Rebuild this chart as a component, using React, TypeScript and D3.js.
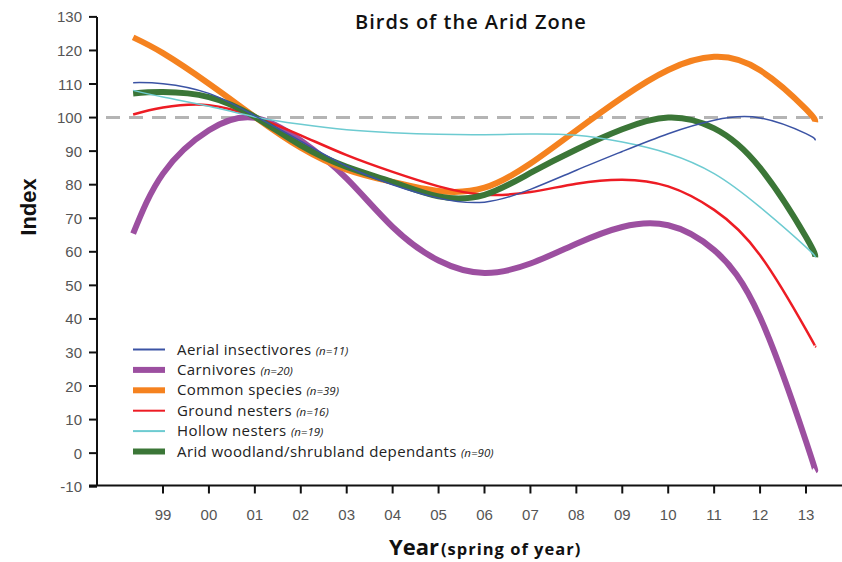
import React, { useEffect, useRef } from "react"
import * as d3 from "d3"

// x positions (years) where values were read; first/last are the curve ends
const years = [1998.35, 1999, 2000, 2001, 2002, 2003, 2004, 2005, 2006, 2007, 2008, 2009, 2010, 2011, 2012, 2013, 2013.2]
const tickYears = [1999, 2000, 2001, 2002, 2003, 2004, 2005, 2006, 2007, 2008, 2009, 2010, 2011, 2012, 2013]
const tickLabels = ["99", "00", "01", "02", "03", "04", "05", "06", "07", "08", "09", "10", "11", "12", "13"]
const yTicks = [-10, 0, 10, 20, 30, 40, 50, 60, 70, 80, 90, 100, 110, 120, 130]

const aerial = [110.4, 110.1, 107.2, 100.5, 93, 85.5, 80, 76, 74.8, 78.6, 84.3, 89.9, 95.2, 99.2, 99.9, 95.2, 93.2]
const carnivores = [65.4, 83.3, 96.2, 99.9, 93.2, 81.8, 67.4, 57.4, 53.7, 56.5, 62.4, 67.4, 67.9, 60.5, 40.5, 3.5, -5.2]
const common = [123.9, 119.2, 110.1, 100.2, 91, 84.5, 80.8, 78.1, 79.1, 86.3, 96.2, 106, 114.2, 118.1, 114.1, 102.5, 98.7]
const ground = [100.9, 103, 103.7, 100.2, 94.7, 88.8, 83.8, 79.5, 77, 77.8, 80.3, 81.5, 79.5, 72.5, 59, 36.8, 31.8]
const hollow = [108.1, 106.1, 103.4, 100.2, 98, 96.4, 95.5, 95, 94.9, 95.1, 94.7, 92.7, 89.3, 83.3, 73.3, 61.4, 58.4]
const arid = [107.2, 107.6, 106.1, 100.2, 91.7, 85.3, 80.8, 76.5, 77, 83.5, 90.5, 96.5, 100, 96.8, 85, 64.4, 58.4]

const seriesNames = ["Aerial insectivores", "Carnivores", "Common species", "Ground nesters", "Hollow nesters", "Arid woodland/shrubland dependants"]
const seriesN = ["(n=11)", "(n=20)", "(n=39)", "(n=16)", "(n=19)", "(n=90)"]
const seriesColors = ["#3b53a4", "#9c4fa0", "#f5821f", "#ed1c24", "#6dcbd1", "#3b7637"]
const seriesWidths = [1.5, 6, 6, 2.5, 1.5, 6]
const seriesValues = [aerial, carnivores, common, ground, hollow, arid]
// drawing order (thin lines on top of thick ones, like the original)
const drawOrder = [1, 2, 3, 5, 4, 0]

const Chart = () => {
  const ref = useRef(null)

  useEffect(() => {
    const svg = d3.select(ref.current)
    svg.selectAll("*").remove()

    const axisLeft = 97
    const axisBottom = 485.5
    const x = d3.scaleLinear().domain([1999, 2013]).range([163, 806])
    const y = d3.scaleLinear().domain([-10, 130]).range([486.7, 16.9])
    const grey = "#555"

    // title
    svg.append("text")
      .attr("x", 471)
      .attr("y", 29)
      .attr("text-anchor", "middle")
      .attr("font-family", "Open Sans, sans-serif")
      .attr("font-weight", 600)
      .attr("font-size", 20)
      .attr("letter-spacing", 1)
      .attr("fill", "#111")
      .text("Birds of the Arid Zone")

    // reference line at 100
    svg.append("line")
      .attr("x1", axisLeft + 9)
      .attr("x2", 823)
      .attr("y1", y(100))
      .attr("y2", y(100))
      .attr("stroke", "#b4b4b4")
      .attr("stroke-width", 3)
      .attr("stroke-dasharray", "14 9")

    // y axis
    svg.append("line")
      .attr("x1", axisLeft).attr("x2", axisLeft)
      .attr("y1", y(130)).attr("y2", axisBottom)
      .attr("stroke", "#111").attr("stroke-width", 2)
    yTicks.forEach(t => {
      svg.append("line")
        .attr("x1", axisLeft - 8).attr("x2", axisLeft)
        .attr("y1", y(t)).attr("y2", y(t))
        .attr("stroke", "#111").attr("stroke-width", 2)
      svg.append("text")
        .attr("x", axisLeft - 15)
        .attr("y", y(t) + 5.5)
        .attr("text-anchor", "end")
        .attr("font-family", "Liberation Sans, Arial, sans-serif")
        .attr("font-size", 15)
        .attr("fill", grey)
        .text(t)
    })
    svg.append("text")
      .attr("transform", "translate(36,207) rotate(-90)")
      .attr("text-anchor", "middle")
      .attr("font-family", "Liberation Sans, Arial, sans-serif")
      .attr("font-weight", 700)
      .attr("font-size", 22)
      .attr("fill", "#111")
      .text("Index")

    // x axis
    svg.append("line")
      .attr("x1", axisLeft - 8).attr("x2", 842)
      .attr("y1", axisBottom).attr("y2", axisBottom)
      .attr("stroke", "#111").attr("stroke-width", 2)
    tickYears.forEach((t, i) => {
      svg.append("line")
        .attr("x1", x(t)).attr("x2", x(t))
        .attr("y1", axisBottom).attr("y2", axisBottom + 8)
        .attr("stroke", "#111").attr("stroke-width", 2)
      svg.append("text")
        .attr("x", x(t))
        .attr("y", 520)
        .attr("text-anchor", "middle")
        .attr("font-family", "Liberation Sans, Arial, sans-serif")
        .attr("font-size", 15)
        .attr("fill", grey)
        .text(tickLabels[i])
    })
    const xTitle = svg.append("text")
      .attr("x", 389)
      .attr("y", 555)
      .attr("font-family", "Open Sans, sans-serif")
      .attr("font-weight", 700)
      .attr("fill", "#111")
    xTitle.append("tspan").attr("font-size", 22).text("Year")
    xTitle.append("tspan").attr("font-size", 16.5).attr("letter-spacing", 1).attr("dx", 2).text("(spring of year)")

    // series
    drawOrder.forEach(k => {
      const vals = seriesValues[k]
      const line = d3.line()
        .x((d, i) => x(years[i]))
        .y(d => y(d))
        .curve(d3.curveNatural)
      svg.append("path")
        .datum(vals)
        .attr("d", line)
        .attr("fill", "none")
        .attr("stroke", seriesColors[k])
        .attr("stroke-width", seriesWidths[k])
    })

    // legend
    const legendTop = 349.5
    const rowH = 20.4
    seriesNames.forEach((name, i) => {
      const ly = legendTop + i * rowH
      svg.append("line")
        .attr("x1", 133).attr("x2", 165)
        .attr("y1", ly).attr("y2", ly)
        .attr("stroke", seriesColors[i])
        .attr("stroke-width", seriesWidths[i] === 6 ? 6 : 2)
      const txt = svg.append("text")
        .attr("x", 177)
        .attr("y", ly + 5)
        .attr("font-family", "Open Sans, sans-serif")
        .attr("font-size", 15)
        .attr("letter-spacing", 0.4)
        .attr("fill", "#222")
      txt.append("tspan").text(name + " ")
      txt.append("tspan")
        .attr("font-size", 11.5)
        .attr("letter-spacing", 0)
        .attr("font-style", "italic")
        .text(seriesN[i])
    })
  }, [])

  return <svg ref={ref} width={842} height={562} style={{ display: "block" }} />
}

export default function App() {
  return (
    <div style={{ position: "absolute", left: 0, top: 0, background: "#fff" }}>
      <Chart />
    </div>
  )
}
